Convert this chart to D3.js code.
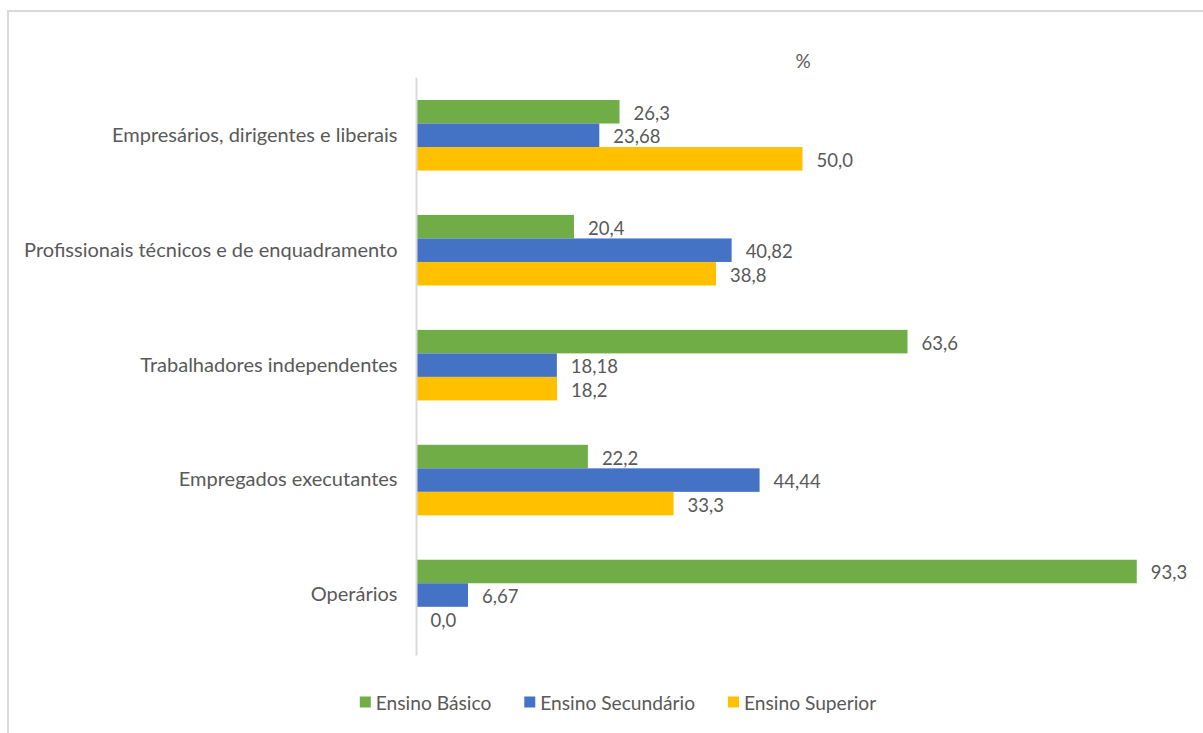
<!DOCTYPE html>
<html>
<head>
<meta charset="utf-8">
<script src="https://cdn.jsdelivr.net/npm/d3@7"></script>
<style>
  html, body { margin: 0; padding: 0; background: #ffffff; }
  svg { display: block; }
  text { font-family: "Lato", "Liberation Sans", sans-serif; fill: #595959; }
</style>
</head>
<body>
<svg id="chart" width="1203" height="733"></svg>
<script>
// Categories (top to bottom) and the three education-level series (%)
const categories = [
  "Empresários, dirigentes e liberais",
  "Profissionais técnicos e de enquadramento",
  "Trabalhadores independentes",
  "Empregados executantes",
  "Operários"
];
const seriesNames = ["Ensino Básico", "Ensino Secundário", "Ensino Superior"];
const ensinoBasico     = [26.3, 20.4, 63.6, 22.2, 93.3];
const ensinoSecundario = [23.68, 40.82, 18.18, 44.44, 6.67];
const ensinoSuperior   = [50.0, 38.8, 18.2, 33.3, 0.0];
const valueLabels = [
  ["26,3", "20,4", "63,6", "22,2", "93,3"],
  ["23,68", "40,82", "18,18", "44,44", "6,67"],
  ["50,0", "38,8", "18,2", "33,3", "0,0"]
];
const seriesColors = ["#70AD47", "#4472C4", "#FFC000"];
const unitLabel = "%";

const seriesValues = [ensinoBasico, ensinoSecundario, ensinoSuperior];
const rows = categories.map((c, i) => ({
  category: c,
  values: seriesNames.map((s, k) => ({ series: s, k, value: seriesValues[k][i], label: valueLabels[k][i] }))
}));

const svg = d3.select("#chart");
const W = 1203, H = 733;

svg.append("rect").attr("width", W).attr("height", H).attr("fill", "#ffffff");
// chart frame
svg.append("rect")
  .attr("x", 8).attr("y", 11).attr("width", W + 20).attr("height", H + 20)
  .attr("fill", "none").attr("stroke", "#d9d9d9").attr("stroke-width", 2);

const plot = { left: 416.5, right: 1188.5, top: 77.8, bottom: 652.5 };

const x = d3.scaleLinear().domain([0, 100]).range([plot.left, plot.right]);
const y = d3.scaleBand().domain(categories).range([plot.top, plot.bottom])
  .paddingInner(0.386).paddingOuter(0.193);
const ySub = d3.scaleBand().domain(seriesNames).range([0, y.bandwidth()]).padding(0);

// unit title
svg.append("text")
  .attr("x", 803).attr("y", 60)
  .attr("text-anchor", "middle").attr("dominant-baseline", "central")
  .style("font-size", "19px")
  .text(unitLabel);

// bars
const groups = svg.append("g").selectAll("g").data(rows).join("g")
  .attr("transform", d => `translate(0,${y(d.category)})`);

groups.selectAll("rect").data(d => d.values).join("rect")
  .attr("x", x(0))
  .attr("y", d => ySub(d.series))
  .attr("width", d => x(d.value) - x(0))
  .attr("height", ySub.bandwidth())
  .attr("fill", d => seriesColors[d.k]);

groups.selectAll("text").data(d => d.values).join("text")
  .attr("x", d => x(d.value) + 14)
  .attr("y", d => ySub(d.series) + ySub.bandwidth() / 2 + 1)
  .attr("dominant-baseline", "central")
  .style("font-size", "18.5px")
  .text(d => d.label);

// category axis
const axis = svg.append("g")
  .attr("transform", `translate(${plot.left},0)`)
  .call(d3.axisLeft(y).tickSize(0).tickPadding(19));
axis.select(".domain").attr("stroke", "#d9d9d9").attr("stroke-width", 2)
  .attr("d", `M0,${plot.top}V${plot.bottom + 3}`);
axis.selectAll(".tick text")
  .style("font-family", "Lato, 'Liberation Sans', sans-serif")
  .style("font-size", "20px")
  .attr("fill", "#595959");

// legend
const legend = svg.append("g").attr("transform", "translate(0,702)");
const items = legend.selectAll("g").data(seriesNames).join("g");
items.append("rect")
  .attr("x", 0).attr("y", -5.5).attr("width", 11).attr("height", 11)
  .attr("fill", (d, i) => seriesColors[i]);
items.append("text")
  .attr("x", 16).attr("y", 0)
  .attr("dominant-baseline", "central")
  .style("font-size", "19.2px")
  .text(d => d);
let cursor = 0;
const widths = [];
items.each(function () {
  const w = 16 + this.querySelector("text").getComputedTextLength();
  widths.push(w);
});
const total = d3.sum(widths) + 33 * (widths.length - 1);
cursor = 618 - total / 2;
items.attr("transform", (d, i) => {
  const t = `translate(${cursor},0)`;
  cursor += widths[i] + 33;
  return t;
});
</script>
</body>
</html>
